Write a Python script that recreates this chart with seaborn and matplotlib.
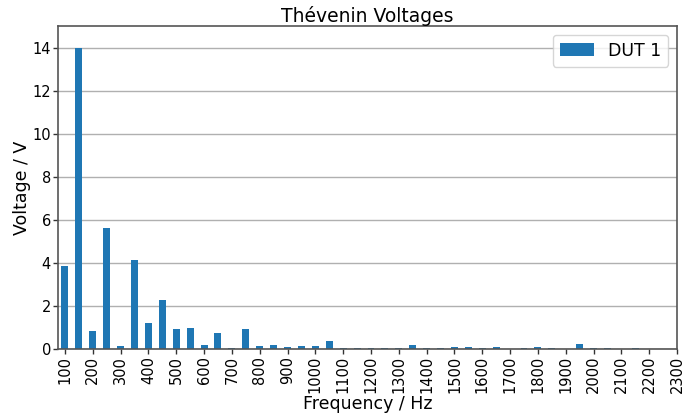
import numpy as np
import pandas as pd
import seaborn as sns
import matplotlib
matplotlib.use("Agg")
import matplotlib.pyplot as plt

# frequencies of the harmonics (Hz) and the Thevenin voltages
frequencies = list(range(100, 2301, 50))
voltages = [
    3.86, 14.0, 0.83, 5.6, 0.14, 4.13, 1.22, 2.27, 0.93, 0.97,   # 100 - 550
    0.19, 0.74, 0.05, 0.93, 0.14, 0.19, 0.09, 0.14, 0.14, 0.37,  # 600 - 1050
    0.05, 0.05, 0.05, 0.05, 0.05, 0.19, 0.05, 0.05, 0.09, 0.09,  # 1100 - 1550
    0.05, 0.09, 0.0, 0.05, 0.09, 0.05, 0.0, 0.23, 0.05, 0.05,    # 1600 - 2050
    0.0, 0.05, 0.0, 0.0, 0.0,                                    # 2100 - 2300
]
series_name = "DUT 1"

df = pd.DataFrame({"Frequency": frequencies, "Voltage": voltages})

sns.set_style("whitegrid", {"text.color": "black", "axes.labelcolor": "black",
                            "xtick.color": "black", "ytick.color": "black"})
plt.rcParams["font.family"] = ["DejaVu Sans"]
fig, ax = plt.subplots(figsize=(6.98, 4.18), dpi=100)
fig.subplots_adjust(left=58 / 698, right=677 / 698, top=1 - 26 / 418, bottom=1 - 349 / 418)

sns.barplot(data=df, x="Frequency", y="Voltage", native_scale=True, width=0.5,
            color="#1f77b4", saturation=1, linewidth=0, label=series_name, ax=ax)

ax.set_xlim(75, 2300)
ax.set_ylim(0, 15)
ax.set_xticks(range(100, 2301, 100))
ax.set_xticklabels([str(f) for f in range(100, 2301, 100)], rotation=90, fontsize=10.5)
ax.set_yticks(range(0, 15, 2))
ax.tick_params(axis="y", labelsize=10.5)
ax.tick_params(axis="both", length=3.5, width=1, color="#333333", bottom=True, left=True, pad=1.5)

ax.grid(axis="x", visible=False)
ax.grid(axis="y", color="#b0b0b0", linewidth=1)
for s in ax.spines.values():
    s.set_color("#555555")
    s.set_linewidth(1.2)

ax.set_title("Thévenin Voltages", fontsize=13.5, pad=3)
ax.set_xlabel("Frequency / Hz", fontsize=12.5, labelpad=1)
ax.set_ylabel("Voltage / V", fontsize=12.5, labelpad=1)
ax.legend(loc="upper right", fontsize=12.5)

fig.savefig("out.png", dpi=100)
